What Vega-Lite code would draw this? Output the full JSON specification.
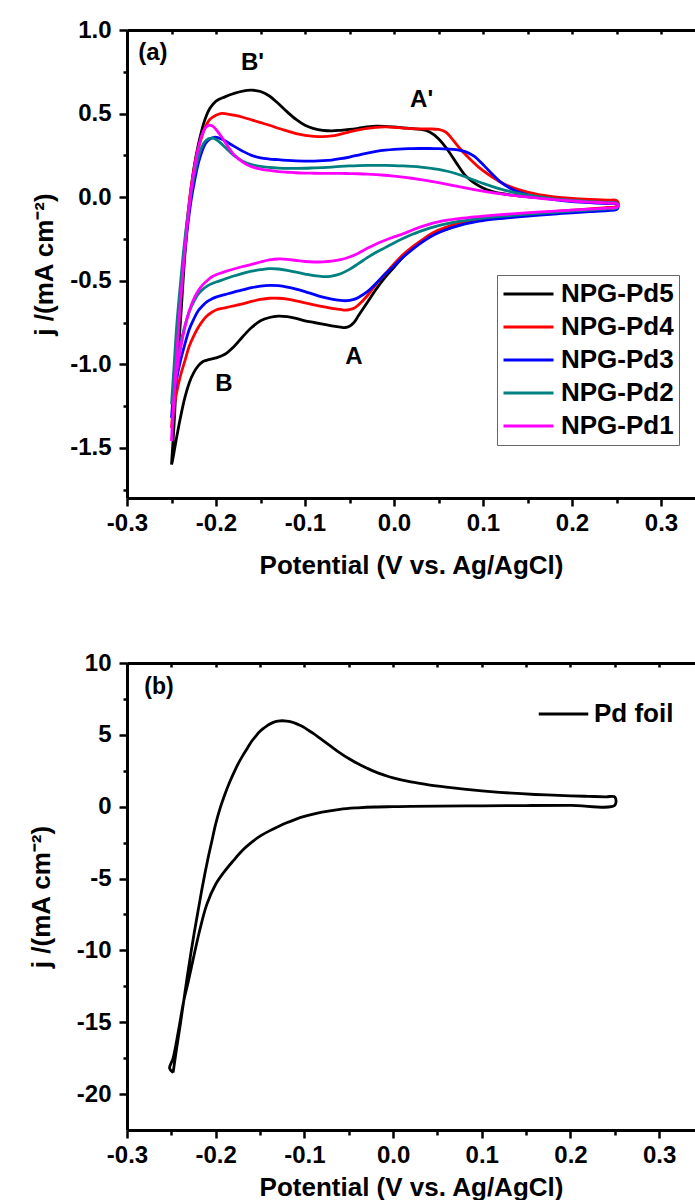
{
  "$schema": "https://vega.github.io/schema/vega-lite/v6.json",
  "padding": {"left": 28, "top": 18, "right": 0, "bottom": 0},
  "background": "white",
  "config": {
    "view": {"stroke": null},
    "font": "Liberation Sans",
    "axis": {"domainColor": "#000", "domainWidth": 3, "tickColor": "#000", "tickWidth": 2.5, "labelColor": "#000", "labelFont": "Liberation Sans", "labelFontWeight": "bold", "labelFontSize": 24, "titleColor": "#000", "titleFont": "Liberation Sans", "titleFontWeight": "bold", "titleFontSize": 26, "grid": false, "labelFlush": false, "labelOverlap": false},
    "legend": {"labelFont": "Liberation Sans", "labelFontWeight": "bold", "labelFontSize": 26, "labelColor": "#000"},
    "text": {"font": "Liberation Sans", "fontWeight": "bold"}
  },
  "datasets": {
    "cv": [
      {"s":"NPG-Pd5","v":-0.25,"j":-1.6},{"s":"NPG-Pd5","v":-0.247,"j":-1.35},{"s":"NPG-Pd5","v":-0.244,"j":-1.05},{"s":"NPG-Pd5","v":-0.24,"j":-0.75},{"s":"NPG-Pd5","v":-0.236,"j":-0.42},{"s":"NPG-Pd5","v":-0.232,"j":-0.15},{"s":"NPG-Pd5","v":-0.228,"j":0.05},{"s":"NPG-Pd5","v":-0.224,"j":0.2},{"s":"NPG-Pd5","v":-0.22,"j":0.31},{"s":"NPG-Pd5","v":-0.216,"j":0.4},{"s":"NPG-Pd5","v":-0.212,"j":0.47},{"s":"NPG-Pd5","v":-0.207,"j":0.53},{"s":"NPG-Pd5","v":-0.2,"j":0.575},{"s":"NPG-Pd5","v":-0.19,"j":0.6},{"s":"NPG-Pd5","v":-0.18,"j":0.62},{"s":"NPG-Pd5","v":-0.17,"j":0.635},{"s":"NPG-Pd5","v":-0.16,"j":0.64},{"s":"NPG-Pd5","v":-0.15,"j":0.632},{"s":"NPG-Pd5","v":-0.14,"j":0.605},{"s":"NPG-Pd5","v":-0.13,"j":0.56},{"s":"NPG-Pd5","v":-0.12,"j":0.51},{"s":"NPG-Pd5","v":-0.11,"j":0.465},{"s":"NPG-Pd5","v":-0.1,"j":0.43},{"s":"NPG-Pd5","v":-0.09,"j":0.41},{"s":"NPG-Pd5","v":-0.08,"j":0.4},{"s":"NPG-Pd5","v":-0.07,"j":0.397},{"s":"NPG-Pd5","v":-0.06,"j":0.4},{"s":"NPG-Pd5","v":-0.05,"j":0.405},{"s":"NPG-Pd5","v":-0.04,"j":0.412},{"s":"NPG-Pd5","v":-0.03,"j":0.42},{"s":"NPG-Pd5","v":-0.02,"j":0.425},{"s":"NPG-Pd5","v":-0.01,"j":0.424},{"s":"NPG-Pd5","v":0,"j":0.42},{"s":"NPG-Pd5","v":0.01,"j":0.415},{"s":"NPG-Pd5","v":0.02,"j":0.41},{"s":"NPG-Pd5","v":0.03,"j":0.405},{"s":"NPG-Pd5","v":0.04,"j":0.39},{"s":"NPG-Pd5","v":0.05,"j":0.35},{"s":"NPG-Pd5","v":0.06,"j":0.285},{"s":"NPG-Pd5","v":0.07,"j":0.205},{"s":"NPG-Pd5","v":0.08,"j":0.13},{"s":"NPG-Pd5","v":0.09,"j":0.085},{"s":"NPG-Pd5","v":0.1,"j":0.055},{"s":"NPG-Pd5","v":0.11,"j":0.035},{"s":"NPG-Pd5","v":0.12,"j":0.022},{"s":"NPG-Pd5","v":0.14,"j":0.008},{"s":"NPG-Pd5","v":0.16,"j":-0.002},{"s":"NPG-Pd5","v":0.18,"j":-0.01},{"s":"NPG-Pd5","v":0.2,"j":-0.015},{"s":"NPG-Pd5","v":0.22,"j":-0.02},{"s":"NPG-Pd5","v":0.24,"j":-0.024},{"s":"NPG-Pd5","v":0.25,"j":-0.026},{"s":"NPG-Pd5","v":0.252,"j":-0.042},{"s":"NPG-Pd5","v":0.25,"j":-0.058},
      {"s":"NPG-Pd5","v":0.24,"j":-0.066},{"s":"NPG-Pd5","v":0.22,"j":-0.074},{"s":"NPG-Pd5","v":0.2,"j":-0.082},{"s":"NPG-Pd5","v":0.18,"j":-0.09},{"s":"NPG-Pd5","v":0.16,"j":-0.098},{"s":"NPG-Pd5","v":0.14,"j":-0.107},{"s":"NPG-Pd5","v":0.12,"j":-0.118},{"s":"NPG-Pd5","v":0.1,"j":-0.132},{"s":"NPG-Pd5","v":0.09,"j":-0.142},{"s":"NPG-Pd5","v":0.08,"j":-0.155},{"s":"NPG-Pd5","v":0.07,"j":-0.17},{"s":"NPG-Pd5","v":0.06,"j":-0.19},{"s":"NPG-Pd5","v":0.05,"j":-0.21},{"s":"NPG-Pd5","v":0.04,"j":-0.235},{"s":"NPG-Pd5","v":0.03,"j":-0.27},{"s":"NPG-Pd5","v":0.02,"j":-0.31},{"s":"NPG-Pd5","v":0.01,"j":-0.36},{"s":"NPG-Pd5","v":0,"j":-0.42},{"s":"NPG-Pd5","v":-0.01,"j":-0.48},{"s":"NPG-Pd5","v":-0.02,"j":-0.55},{"s":"NPG-Pd5","v":-0.03,"j":-0.63},{"s":"NPG-Pd5","v":-0.04,"j":-0.71},{"s":"NPG-Pd5","v":-0.045,"j":-0.75},{"s":"NPG-Pd5","v":-0.05,"j":-0.772},{"s":"NPG-Pd5","v":-0.055,"j":-0.78},{"s":"NPG-Pd5","v":-0.06,"j":-0.778},{"s":"NPG-Pd5","v":-0.07,"j":-0.77},{"s":"NPG-Pd5","v":-0.08,"j":-0.76},{"s":"NPG-Pd5","v":-0.09,"j":-0.75},{"s":"NPG-Pd5","v":-0.1,"j":-0.74},{"s":"NPG-Pd5","v":-0.11,"j":-0.725},{"s":"NPG-Pd5","v":-0.12,"j":-0.715},{"s":"NPG-Pd5","v":-0.13,"j":-0.712},{"s":"NPG-Pd5","v":-0.14,"j":-0.72},{"s":"NPG-Pd5","v":-0.15,"j":-0.74},{"s":"NPG-Pd5","v":-0.16,"j":-0.78},{"s":"NPG-Pd5","v":-0.17,"j":-0.835},{"s":"NPG-Pd5","v":-0.18,"j":-0.895},{"s":"NPG-Pd5","v":-0.19,"j":-0.94},{"s":"NPG-Pd5","v":-0.2,"j":-0.962},{"s":"NPG-Pd5","v":-0.21,"j":-0.975},{"s":"NPG-Pd5","v":-0.215,"j":-0.985},{"s":"NPG-Pd5","v":-0.22,"j":-1.01},{"s":"NPG-Pd5","v":-0.225,"j":-1.05},{"s":"NPG-Pd5","v":-0.23,"j":-1.11},{"s":"NPG-Pd5","v":-0.235,"j":-1.2},{"s":"NPG-Pd5","v":-0.24,"j":-1.32},{"s":"NPG-Pd5","v":-0.245,"j":-1.46},{"s":"NPG-Pd5","v":-0.249,"j":-1.58},{"s":"NPG-Pd5","v":-0.25,"j":-1.6},

      {"s":"NPG-Pd4","v":-0.25,"j":-1.38},{"s":"NPG-Pd4","v":-0.247,"j":-1.15},{"s":"NPG-Pd4","v":-0.244,"j":-0.9},{"s":"NPG-Pd4","v":-0.24,"j":-0.62},{"s":"NPG-Pd4","v":-0.236,"j":-0.36},{"s":"NPG-Pd4","v":-0.232,"j":-0.12},{"s":"NPG-Pd4","v":-0.228,"j":0.06},{"s":"NPG-Pd4","v":-0.224,"j":0.19},{"s":"NPG-Pd4","v":-0.22,"j":0.29},{"s":"NPG-Pd4","v":-0.216,"j":0.36},{"s":"NPG-Pd4","v":-0.212,"j":0.42},{"s":"NPG-Pd4","v":-0.207,"j":0.465},{"s":"NPG-Pd4","v":-0.2,"j":0.49},{"s":"NPG-Pd4","v":-0.195,"j":0.5},{"s":"NPG-Pd4","v":-0.19,"j":0.5},{"s":"NPG-Pd4","v":-0.18,"j":0.49},{"s":"NPG-Pd4","v":-0.17,"j":0.478},{"s":"NPG-Pd4","v":-0.16,"j":0.462},{"s":"NPG-Pd4","v":-0.15,"j":0.446},{"s":"NPG-Pd4","v":-0.14,"j":0.43},{"s":"NPG-Pd4","v":-0.13,"j":0.412},{"s":"NPG-Pd4","v":-0.12,"j":0.396},{"s":"NPG-Pd4","v":-0.11,"j":0.38},{"s":"NPG-Pd4","v":-0.1,"j":0.37},{"s":"NPG-Pd4","v":-0.09,"j":0.364},{"s":"NPG-Pd4","v":-0.08,"j":0.362},{"s":"NPG-Pd4","v":-0.07,"j":0.366},{"s":"NPG-Pd4","v":-0.06,"j":0.377},{"s":"NPG-Pd4","v":-0.05,"j":0.39},{"s":"NPG-Pd4","v":-0.04,"j":0.402},{"s":"NPG-Pd4","v":-0.03,"j":0.412},{"s":"NPG-Pd4","v":-0.02,"j":0.418},{"s":"NPG-Pd4","v":-0.01,"j":0.42},{"s":"NPG-Pd4","v":0,"j":0.418},{"s":"NPG-Pd4","v":0.01,"j":0.413},{"s":"NPG-Pd4","v":0.02,"j":0.41},{"s":"NPG-Pd4","v":0.03,"j":0.408},{"s":"NPG-Pd4","v":0.04,"j":0.408},{"s":"NPG-Pd4","v":0.05,"j":0.405},{"s":"NPG-Pd4","v":0.058,"j":0.39},{"s":"NPG-Pd4","v":0.065,"j":0.35},{"s":"NPG-Pd4","v":0.075,"j":0.285},{"s":"NPG-Pd4","v":0.085,"j":0.23},{"s":"NPG-Pd4","v":0.095,"j":0.18},{"s":"NPG-Pd4","v":0.105,"j":0.14},{"s":"NPG-Pd4","v":0.115,"j":0.105},{"s":"NPG-Pd4","v":0.125,"j":0.075},{"s":"NPG-Pd4","v":0.14,"j":0.045},{"s":"NPG-Pd4","v":0.16,"j":0.018},{"s":"NPG-Pd4","v":0.18,"j":0.002},{"s":"NPG-Pd4","v":0.2,"j":-0.008},{"s":"NPG-Pd4","v":0.22,"j":-0.014},{"s":"NPG-Pd4","v":0.24,"j":-0.018},{"s":"NPG-Pd4","v":0.25,"j":-0.02},{"s":"NPG-Pd4","v":0.252,"j":-0.037},{"s":"NPG-Pd4","v":0.25,"j":-0.055},
      {"s":"NPG-Pd4","v":0.24,"j":-0.062},{"s":"NPG-Pd4","v":0.22,"j":-0.07},{"s":"NPG-Pd4","v":0.2,"j":-0.078},{"s":"NPG-Pd4","v":0.18,"j":-0.086},{"s":"NPG-Pd4","v":0.16,"j":-0.094},{"s":"NPG-Pd4","v":0.14,"j":-0.103},{"s":"NPG-Pd4","v":0.12,"j":-0.113},{"s":"NPG-Pd4","v":0.1,"j":-0.126},{"s":"NPG-Pd4","v":0.09,"j":-0.135},{"s":"NPG-Pd4","v":0.08,"j":-0.146},{"s":"NPG-Pd4","v":0.07,"j":-0.16},{"s":"NPG-Pd4","v":0.06,"j":-0.177},{"s":"NPG-Pd4","v":0.05,"j":-0.197},{"s":"NPG-Pd4","v":0.04,"j":-0.225},{"s":"NPG-Pd4","v":0.03,"j":-0.262},{"s":"NPG-Pd4","v":0.02,"j":-0.3},{"s":"NPG-Pd4","v":0.01,"j":-0.345},{"s":"NPG-Pd4","v":0,"j":-0.4},{"s":"NPG-Pd4","v":-0.01,"j":-0.46},{"s":"NPG-Pd4","v":-0.02,"j":-0.52},{"s":"NPG-Pd4","v":-0.03,"j":-0.59},{"s":"NPG-Pd4","v":-0.04,"j":-0.645},{"s":"NPG-Pd4","v":-0.045,"j":-0.665},{"s":"NPG-Pd4","v":-0.05,"j":-0.673},{"s":"NPG-Pd4","v":-0.055,"j":-0.676},{"s":"NPG-Pd4","v":-0.06,"j":-0.672},{"s":"NPG-Pd4","v":-0.07,"j":-0.665},{"s":"NPG-Pd4","v":-0.08,"j":-0.655},{"s":"NPG-Pd4","v":-0.09,"j":-0.645},{"s":"NPG-Pd4","v":-0.1,"j":-0.632},{"s":"NPG-Pd4","v":-0.11,"j":-0.62},{"s":"NPG-Pd4","v":-0.12,"j":-0.61},{"s":"NPG-Pd4","v":-0.13,"j":-0.605},{"s":"NPG-Pd4","v":-0.14,"j":-0.605},{"s":"NPG-Pd4","v":-0.15,"j":-0.612},{"s":"NPG-Pd4","v":-0.16,"j":-0.624},{"s":"NPG-Pd4","v":-0.17,"j":-0.638},{"s":"NPG-Pd4","v":-0.18,"j":-0.65},{"s":"NPG-Pd4","v":-0.19,"j":-0.662},{"s":"NPG-Pd4","v":-0.2,"j":-0.675},{"s":"NPG-Pd4","v":-0.205,"j":-0.69},{"s":"NPG-Pd4","v":-0.21,"j":-0.71},{"s":"NPG-Pd4","v":-0.215,"j":-0.74},{"s":"NPG-Pd4","v":-0.22,"j":-0.78},{"s":"NPG-Pd4","v":-0.225,"j":-0.83},{"s":"NPG-Pd4","v":-0.23,"j":-0.89},{"s":"NPG-Pd4","v":-0.235,"j":-0.98},{"s":"NPG-Pd4","v":-0.24,"j":-1.07},{"s":"NPG-Pd4","v":-0.245,"j":-1.19},{"s":"NPG-Pd4","v":-0.248,"j":-1.29},{"s":"NPG-Pd4","v":-0.25,"j":-1.38},

      {"s":"NPG-Pd3","v":-0.25,"j":-1.32},{"s":"NPG-Pd3","v":-0.247,"j":-1.1},{"s":"NPG-Pd3","v":-0.244,"j":-0.86},{"s":"NPG-Pd3","v":-0.24,"j":-0.6},{"s":"NPG-Pd3","v":-0.236,"j":-0.38},{"s":"NPG-Pd3","v":-0.232,"j":-0.18},{"s":"NPG-Pd3","v":-0.228,"j":-0.02},{"s":"NPG-Pd3","v":-0.224,"j":0.1},{"s":"NPG-Pd3","v":-0.22,"j":0.2},{"s":"NPG-Pd3","v":-0.216,"j":0.27},{"s":"NPG-Pd3","v":-0.212,"j":0.32},{"s":"NPG-Pd3","v":-0.207,"j":0.348},{"s":"NPG-Pd3","v":-0.202,"j":0.358},{"s":"NPG-Pd3","v":-0.198,"j":0.356},{"s":"NPG-Pd3","v":-0.19,"j":0.338},{"s":"NPG-Pd3","v":-0.18,"j":0.305},{"s":"NPG-Pd3","v":-0.17,"j":0.275},{"s":"NPG-Pd3","v":-0.16,"j":0.25},{"s":"NPG-Pd3","v":-0.15,"j":0.235},{"s":"NPG-Pd3","v":-0.14,"j":0.228},{"s":"NPG-Pd3","v":-0.13,"j":0.224},{"s":"NPG-Pd3","v":-0.12,"j":0.22},{"s":"NPG-Pd3","v":-0.11,"j":0.217},{"s":"NPG-Pd3","v":-0.1,"j":0.216},{"s":"NPG-Pd3","v":-0.09,"j":0.216},{"s":"NPG-Pd3","v":-0.08,"j":0.218},{"s":"NPG-Pd3","v":-0.07,"j":0.222},{"s":"NPG-Pd3","v":-0.06,"j":0.23},{"s":"NPG-Pd3","v":-0.05,"j":0.24},{"s":"NPG-Pd3","v":-0.04,"j":0.252},{"s":"NPG-Pd3","v":-0.03,"j":0.264},{"s":"NPG-Pd3","v":-0.02,"j":0.274},{"s":"NPG-Pd3","v":-0.01,"j":0.281},{"s":"NPG-Pd3","v":0,"j":0.286},{"s":"NPG-Pd3","v":0.01,"j":0.289},{"s":"NPG-Pd3","v":0.02,"j":0.29},{"s":"NPG-Pd3","v":0.03,"j":0.291},{"s":"NPG-Pd3","v":0.04,"j":0.291},{"s":"NPG-Pd3","v":0.05,"j":0.29},{"s":"NPG-Pd3","v":0.06,"j":0.288},{"s":"NPG-Pd3","v":0.07,"j":0.284},{"s":"NPG-Pd3","v":0.08,"j":0.272},{"s":"NPG-Pd3","v":0.09,"j":0.245},{"s":"NPG-Pd3","v":0.1,"j":0.195},{"s":"NPG-Pd3","v":0.11,"j":0.14},{"s":"NPG-Pd3","v":0.12,"j":0.09},{"s":"NPG-Pd3","v":0.13,"j":0.055},{"s":"NPG-Pd3","v":0.14,"j":0.03},{"s":"NPG-Pd3","v":0.16,"j":0.002},{"s":"NPG-Pd3","v":0.18,"j":-0.015},{"s":"NPG-Pd3","v":0.2,"j":-0.026},{"s":"NPG-Pd3","v":0.22,"j":-0.033},{"s":"NPG-Pd3","v":0.24,"j":-0.038},{"s":"NPG-Pd3","v":0.25,"j":-0.04},{"s":"NPG-Pd3","v":0.252,"j":-0.057},{"s":"NPG-Pd3","v":0.25,"j":-0.075},
      {"s":"NPG-Pd3","v":0.24,"j":-0.08},{"s":"NPG-Pd3","v":0.22,"j":-0.087},{"s":"NPG-Pd3","v":0.2,"j":-0.094},{"s":"NPG-Pd3","v":0.18,"j":-0.101},{"s":"NPG-Pd3","v":0.16,"j":-0.109},{"s":"NPG-Pd3","v":0.14,"j":-0.118},{"s":"NPG-Pd3","v":0.12,"j":-0.128},{"s":"NPG-Pd3","v":0.1,"j":-0.14},{"s":"NPG-Pd3","v":0.09,"j":-0.149},{"s":"NPG-Pd3","v":0.08,"j":-0.16},{"s":"NPG-Pd3","v":0.07,"j":-0.175},{"s":"NPG-Pd3","v":0.06,"j":-0.192},{"s":"NPG-Pd3","v":0.05,"j":-0.213},{"s":"NPG-Pd3","v":0.04,"j":-0.24},{"s":"NPG-Pd3","v":0.03,"j":-0.275},{"s":"NPG-Pd3","v":0.02,"j":-0.315},{"s":"NPG-Pd3","v":0.01,"j":-0.36},{"s":"NPG-Pd3","v":0,"j":-0.41},{"s":"NPG-Pd3","v":-0.01,"j":-0.46},{"s":"NPG-Pd3","v":-0.02,"j":-0.515},{"s":"NPG-Pd3","v":-0.03,"j":-0.565},{"s":"NPG-Pd3","v":-0.04,"j":-0.6},{"s":"NPG-Pd3","v":-0.045,"j":-0.612},{"s":"NPG-Pd3","v":-0.05,"j":-0.618},{"s":"NPG-Pd3","v":-0.055,"j":-0.62},{"s":"NPG-Pd3","v":-0.06,"j":-0.618},{"s":"NPG-Pd3","v":-0.07,"j":-0.61},{"s":"NPG-Pd3","v":-0.08,"j":-0.598},{"s":"NPG-Pd3","v":-0.09,"j":-0.582},{"s":"NPG-Pd3","v":-0.1,"j":-0.565},{"s":"NPG-Pd3","v":-0.11,"j":-0.55},{"s":"NPG-Pd3","v":-0.12,"j":-0.538},{"s":"NPG-Pd3","v":-0.13,"j":-0.53},{"s":"NPG-Pd3","v":-0.14,"j":-0.528},{"s":"NPG-Pd3","v":-0.15,"j":-0.533},{"s":"NPG-Pd3","v":-0.16,"j":-0.542},{"s":"NPG-Pd3","v":-0.17,"j":-0.555},{"s":"NPG-Pd3","v":-0.18,"j":-0.568},{"s":"NPG-Pd3","v":-0.19,"j":-0.583},{"s":"NPG-Pd3","v":-0.2,"j":-0.598},{"s":"NPG-Pd3","v":-0.205,"j":-0.61},{"s":"NPG-Pd3","v":-0.21,"j":-0.625},{"s":"NPG-Pd3","v":-0.215,"j":-0.65},{"s":"NPG-Pd3","v":-0.22,"j":-0.68},{"s":"NPG-Pd3","v":-0.225,"j":-0.73},{"s":"NPG-Pd3","v":-0.23,"j":-0.79},{"s":"NPG-Pd3","v":-0.235,"j":-0.88},{"s":"NPG-Pd3","v":-0.24,"j":-0.98},{"s":"NPG-Pd3","v":-0.245,"j":-1.11},{"s":"NPG-Pd3","v":-0.248,"j":-1.22},{"s":"NPG-Pd3","v":-0.25,"j":-1.32},

      {"s":"NPG-Pd2","v":-0.25,"j":-1.24},{"s":"NPG-Pd2","v":-0.247,"j":-1.0},{"s":"NPG-Pd2","v":-0.244,"j":-0.76},{"s":"NPG-Pd2","v":-0.24,"j":-0.52},{"s":"NPG-Pd2","v":-0.236,"j":-0.3},{"s":"NPG-Pd2","v":-0.232,"j":-0.12},{"s":"NPG-Pd2","v":-0.228,"j":0.02},{"s":"NPG-Pd2","v":-0.224,"j":0.14},{"s":"NPG-Pd2","v":-0.22,"j":0.235},{"s":"NPG-Pd2","v":-0.216,"j":0.3},{"s":"NPG-Pd2","v":-0.212,"j":0.335},{"s":"NPG-Pd2","v":-0.208,"j":0.35},{"s":"NPG-Pd2","v":-0.204,"j":0.353},{"s":"NPG-Pd2","v":-0.2,"j":0.345},{"s":"NPG-Pd2","v":-0.195,"j":0.325},{"s":"NPG-Pd2","v":-0.19,"j":0.3},{"s":"NPG-Pd2","v":-0.18,"j":0.25},{"s":"NPG-Pd2","v":-0.17,"j":0.215},{"s":"NPG-Pd2","v":-0.16,"j":0.195},{"s":"NPG-Pd2","v":-0.15,"j":0.184},{"s":"NPG-Pd2","v":-0.14,"j":0.178},{"s":"NPG-Pd2","v":-0.13,"j":0.174},{"s":"NPG-Pd2","v":-0.12,"j":0.172},{"s":"NPG-Pd2","v":-0.11,"j":0.172},{"s":"NPG-Pd2","v":-0.1,"j":0.173},{"s":"NPG-Pd2","v":-0.09,"j":0.175},{"s":"NPG-Pd2","v":-0.08,"j":0.177},{"s":"NPG-Pd2","v":-0.07,"j":0.18},{"s":"NPG-Pd2","v":-0.06,"j":0.184},{"s":"NPG-Pd2","v":-0.05,"j":0.187},{"s":"NPG-Pd2","v":-0.04,"j":0.189},{"s":"NPG-Pd2","v":-0.03,"j":0.19},{"s":"NPG-Pd2","v":-0.02,"j":0.19},{"s":"NPG-Pd2","v":-0.01,"j":0.19},{"s":"NPG-Pd2","v":0,"j":0.189},{"s":"NPG-Pd2","v":0.01,"j":0.187},{"s":"NPG-Pd2","v":0.02,"j":0.184},{"s":"NPG-Pd2","v":0.03,"j":0.18},{"s":"NPG-Pd2","v":0.04,"j":0.174},{"s":"NPG-Pd2","v":0.05,"j":0.166},{"s":"NPG-Pd2","v":0.06,"j":0.155},{"s":"NPG-Pd2","v":0.07,"j":0.14},{"s":"NPG-Pd2","v":0.08,"j":0.122},{"s":"NPG-Pd2","v":0.09,"j":0.102},{"s":"NPG-Pd2","v":0.1,"j":0.082},{"s":"NPG-Pd2","v":0.11,"j":0.064},{"s":"NPG-Pd2","v":0.12,"j":0.048},{"s":"NPG-Pd2","v":0.13,"j":0.034},{"s":"NPG-Pd2","v":0.14,"j":0.022},{"s":"NPG-Pd2","v":0.16,"j":0.004},{"s":"NPG-Pd2","v":0.18,"j":-0.01},{"s":"NPG-Pd2","v":0.2,"j":-0.02},{"s":"NPG-Pd2","v":0.22,"j":-0.027},{"s":"NPG-Pd2","v":0.24,"j":-0.032},{"s":"NPG-Pd2","v":0.25,"j":-0.034},{"s":"NPG-Pd2","v":0.252,"j":-0.05},{"s":"NPG-Pd2","v":0.25,"j":-0.065},
      {"s":"NPG-Pd2","v":0.24,"j":-0.07},{"s":"NPG-Pd2","v":0.22,"j":-0.077},{"s":"NPG-Pd2","v":0.2,"j":-0.084},{"s":"NPG-Pd2","v":0.18,"j":-0.091},{"s":"NPG-Pd2","v":0.16,"j":-0.098},{"s":"NPG-Pd2","v":0.14,"j":-0.106},{"s":"NPG-Pd2","v":0.12,"j":-0.115},{"s":"NPG-Pd2","v":0.1,"j":-0.125},{"s":"NPG-Pd2","v":0.09,"j":-0.132},{"s":"NPG-Pd2","v":0.08,"j":-0.14},{"s":"NPG-Pd2","v":0.07,"j":-0.148},{"s":"NPG-Pd2","v":0.06,"j":-0.158},{"s":"NPG-Pd2","v":0.05,"j":-0.17},{"s":"NPG-Pd2","v":0.04,"j":-0.185},{"s":"NPG-Pd2","v":0.03,"j":-0.203},{"s":"NPG-Pd2","v":0.02,"j":-0.224},{"s":"NPG-Pd2","v":0.01,"j":-0.248},{"s":"NPG-Pd2","v":0,"j":-0.274},{"s":"NPG-Pd2","v":-0.01,"j":-0.302},{"s":"NPG-Pd2","v":-0.02,"j":-0.33},{"s":"NPG-Pd2","v":-0.03,"j":-0.362},{"s":"NPG-Pd2","v":-0.04,"j":-0.398},{"s":"NPG-Pd2","v":-0.05,"j":-0.432},{"s":"NPG-Pd2","v":-0.06,"j":-0.458},{"s":"NPG-Pd2","v":-0.07,"j":-0.472},{"s":"NPG-Pd2","v":-0.08,"j":-0.475},{"s":"NPG-Pd2","v":-0.09,"j":-0.47},{"s":"NPG-Pd2","v":-0.1,"j":-0.46},{"s":"NPG-Pd2","v":-0.11,"j":-0.449},{"s":"NPG-Pd2","v":-0.12,"j":-0.438},{"s":"NPG-Pd2","v":-0.13,"j":-0.43},{"s":"NPG-Pd2","v":-0.14,"j":-0.428},{"s":"NPG-Pd2","v":-0.15,"j":-0.434},{"s":"NPG-Pd2","v":-0.16,"j":-0.443},{"s":"NPG-Pd2","v":-0.17,"j":-0.456},{"s":"NPG-Pd2","v":-0.18,"j":-0.472},{"s":"NPG-Pd2","v":-0.19,"j":-0.49},{"s":"NPG-Pd2","v":-0.2,"j":-0.508},{"s":"NPG-Pd2","v":-0.205,"j":-0.518},{"s":"NPG-Pd2","v":-0.21,"j":-0.532},{"s":"NPG-Pd2","v":-0.215,"j":-0.552},{"s":"NPG-Pd2","v":-0.22,"j":-0.58},{"s":"NPG-Pd2","v":-0.225,"j":-0.625},{"s":"NPG-Pd2","v":-0.23,"j":-0.685},{"s":"NPG-Pd2","v":-0.235,"j":-0.77},{"s":"NPG-Pd2","v":-0.24,"j":-0.88},{"s":"NPG-Pd2","v":-0.245,"j":-1.01},{"s":"NPG-Pd2","v":-0.248,"j":-1.13},{"s":"NPG-Pd2","v":-0.25,"j":-1.24},

      {"s":"NPG-Pd1","v":-0.25,"j":-1.46},{"s":"NPG-Pd1","v":-0.247,"j":-1.2},{"s":"NPG-Pd1","v":-0.244,"j":-0.93},{"s":"NPG-Pd1","v":-0.24,"j":-0.63},{"s":"NPG-Pd1","v":-0.236,"j":-0.37},{"s":"NPG-Pd1","v":-0.232,"j":-0.15},{"s":"NPG-Pd1","v":-0.228,"j":0.04},{"s":"NPG-Pd1","v":-0.224,"j":0.18},{"s":"NPG-Pd1","v":-0.22,"j":0.29},{"s":"NPG-Pd1","v":-0.216,"j":0.37},{"s":"NPG-Pd1","v":-0.212,"j":0.415},{"s":"NPG-Pd1","v":-0.208,"j":0.43},{"s":"NPG-Pd1","v":-0.204,"j":0.425},{"s":"NPG-Pd1","v":-0.2,"j":0.405},{"s":"NPG-Pd1","v":-0.195,"j":0.37},{"s":"NPG-Pd1","v":-0.19,"j":0.33},{"s":"NPG-Pd1","v":-0.185,"j":0.29},{"s":"NPG-Pd1","v":-0.18,"j":0.255},{"s":"NPG-Pd1","v":-0.17,"j":0.21},{"s":"NPG-Pd1","v":-0.16,"j":0.182},{"s":"NPG-Pd1","v":-0.15,"j":0.168},{"s":"NPG-Pd1","v":-0.14,"j":0.16},{"s":"NPG-Pd1","v":-0.13,"j":0.153},{"s":"NPG-Pd1","v":-0.12,"j":0.149},{"s":"NPG-Pd1","v":-0.11,"j":0.146},{"s":"NPG-Pd1","v":-0.1,"j":0.144},{"s":"NPG-Pd1","v":-0.09,"j":0.143},{"s":"NPG-Pd1","v":-0.08,"j":0.142},{"s":"NPG-Pd1","v":-0.07,"j":0.142},{"s":"NPG-Pd1","v":-0.06,"j":0.142},{"s":"NPG-Pd1","v":-0.05,"j":0.141},{"s":"NPG-Pd1","v":-0.04,"j":0.14},{"s":"NPG-Pd1","v":-0.03,"j":0.138},{"s":"NPG-Pd1","v":-0.02,"j":0.135},{"s":"NPG-Pd1","v":-0.01,"j":0.131},{"s":"NPG-Pd1","v":0,"j":0.126},{"s":"NPG-Pd1","v":0.01,"j":0.12},{"s":"NPG-Pd1","v":0.02,"j":0.113},{"s":"NPG-Pd1","v":0.03,"j":0.105},{"s":"NPG-Pd1","v":0.04,"j":0.096},{"s":"NPG-Pd1","v":0.05,"j":0.087},{"s":"NPG-Pd1","v":0.06,"j":0.077},{"s":"NPG-Pd1","v":0.07,"j":0.066},{"s":"NPG-Pd1","v":0.08,"j":0.055},{"s":"NPG-Pd1","v":0.09,"j":0.045},{"s":"NPG-Pd1","v":0.1,"j":0.036},{"s":"NPG-Pd1","v":0.11,"j":0.027},{"s":"NPG-Pd1","v":0.12,"j":0.019},{"s":"NPG-Pd1","v":0.14,"j":0.006},{"s":"NPG-Pd1","v":0.16,"j":-0.005},{"s":"NPG-Pd1","v":0.18,"j":-0.015},{"s":"NPG-Pd1","v":0.2,"j":-0.023},{"s":"NPG-Pd1","v":0.22,"j":-0.03},{"s":"NPG-Pd1","v":0.24,"j":-0.035},{"s":"NPG-Pd1","v":0.25,"j":-0.038},{"s":"NPG-Pd1","v":0.252,"j":-0.05},{"s":"NPG-Pd1","v":0.25,"j":-0.062},
      {"s":"NPG-Pd1","v":0.24,"j":-0.066},{"s":"NPG-Pd1","v":0.22,"j":-0.072},{"s":"NPG-Pd1","v":0.2,"j":-0.078},{"s":"NPG-Pd1","v":0.18,"j":-0.084},{"s":"NPG-Pd1","v":0.16,"j":-0.09},{"s":"NPG-Pd1","v":0.14,"j":-0.097},{"s":"NPG-Pd1","v":0.12,"j":-0.105},{"s":"NPG-Pd1","v":0.1,"j":-0.113},{"s":"NPG-Pd1","v":0.09,"j":-0.118},{"s":"NPG-Pd1","v":0.08,"j":-0.124},{"s":"NPG-Pd1","v":0.07,"j":-0.13},{"s":"NPG-Pd1","v":0.06,"j":-0.138},{"s":"NPG-Pd1","v":0.05,"j":-0.148},{"s":"NPG-Pd1","v":0.04,"j":-0.161},{"s":"NPG-Pd1","v":0.03,"j":-0.178},{"s":"NPG-Pd1","v":0.02,"j":-0.198},{"s":"NPG-Pd1","v":0.01,"j":-0.22},{"s":"NPG-Pd1","v":0,"j":-0.238},{"s":"NPG-Pd1","v":-0.01,"j":-0.258},{"s":"NPG-Pd1","v":-0.02,"j":-0.28},{"s":"NPG-Pd1","v":-0.03,"j":-0.306},{"s":"NPG-Pd1","v":-0.04,"j":-0.335},{"s":"NPG-Pd1","v":-0.05,"j":-0.358},{"s":"NPG-Pd1","v":-0.06,"j":-0.374},{"s":"NPG-Pd1","v":-0.07,"j":-0.383},{"s":"NPG-Pd1","v":-0.08,"j":-0.387},{"s":"NPG-Pd1","v":-0.09,"j":-0.388},{"s":"NPG-Pd1","v":-0.1,"j":-0.385},{"s":"NPG-Pd1","v":-0.11,"j":-0.379},{"s":"NPG-Pd1","v":-0.12,"j":-0.372},{"s":"NPG-Pd1","v":-0.13,"j":-0.37},{"s":"NPG-Pd1","v":-0.14,"j":-0.376},{"s":"NPG-Pd1","v":-0.15,"j":-0.388},{"s":"NPG-Pd1","v":-0.16,"j":-0.402},{"s":"NPG-Pd1","v":-0.17,"j":-0.415},{"s":"NPG-Pd1","v":-0.18,"j":-0.43},{"s":"NPG-Pd1","v":-0.19,"j":-0.446},{"s":"NPG-Pd1","v":-0.2,"j":-0.464},{"s":"NPG-Pd1","v":-0.205,"j":-0.478},{"s":"NPG-Pd1","v":-0.21,"j":-0.5},{"s":"NPG-Pd1","v":-0.215,"j":-0.525},{"s":"NPG-Pd1","v":-0.22,"j":-0.56},{"s":"NPG-Pd1","v":-0.225,"j":-0.61},{"s":"NPG-Pd1","v":-0.23,"j":-0.68},{"s":"NPG-Pd1","v":-0.235,"j":-0.78},{"s":"NPG-Pd1","v":-0.24,"j":-0.91},{"s":"NPG-Pd1","v":-0.245,"j":-1.08},{"s":"NPG-Pd1","v":-0.248,"j":-1.25},{"s":"NPG-Pd1","v":-0.25,"j":-1.46}
    ],
    "foil": [
      {"s":"Pd foil","v":-0.248,"j":-18.5},{"s":"Pd foil","v":-0.244,"j":-16.8},{"s":"Pd foil","v":-0.24,"j":-15.2},{"s":"Pd foil","v":-0.236,"j":-13.5},{"s":"Pd foil","v":-0.232,"j":-11.8},{"s":"Pd foil","v":-0.228,"j":-10.2},{"s":"Pd foil","v":-0.224,"j":-8.7},{"s":"Pd foil","v":-0.22,"j":-7.3},{"s":"Pd foil","v":-0.216,"j":-5.9},{"s":"Pd foil","v":-0.212,"j":-4.6},{"s":"Pd foil","v":-0.208,"j":-3.4},{"s":"Pd foil","v":-0.204,"j":-2.3},{"s":"Pd foil","v":-0.2,"j":-1.2},{"s":"Pd foil","v":-0.195,"j":-0.1},{"s":"Pd foil","v":-0.19,"j":0.8},{"s":"Pd foil","v":-0.185,"j":1.6},{"s":"Pd foil","v":-0.18,"j":2.3},{"s":"Pd foil","v":-0.175,"j":2.95},{"s":"Pd foil","v":-0.17,"j":3.5},{"s":"Pd foil","v":-0.165,"j":4.0},{"s":"Pd foil","v":-0.16,"j":4.5},{"s":"Pd foil","v":-0.155,"j":4.9},{"s":"Pd foil","v":-0.15,"j":5.25},{"s":"Pd foil","v":-0.145,"j":5.5},{"s":"Pd foil","v":-0.14,"j":5.72},{"s":"Pd foil","v":-0.135,"j":5.87},{"s":"Pd foil","v":-0.13,"j":5.95},{"s":"Pd foil","v":-0.125,"j":5.98},{"s":"Pd foil","v":-0.12,"j":5.96},{"s":"Pd foil","v":-0.115,"j":5.9},{"s":"Pd foil","v":-0.11,"j":5.8},{"s":"Pd foil","v":-0.105,"j":5.66},{"s":"Pd foil","v":-0.1,"j":5.5},{"s":"Pd foil","v":-0.095,"j":5.3},{"s":"Pd foil","v":-0.09,"j":5.1},{"s":"Pd foil","v":-0.08,"j":4.65},{"s":"Pd foil","v":-0.07,"j":4.2},{"s":"Pd foil","v":-0.06,"j":3.75},{"s":"Pd foil","v":-0.05,"j":3.35},{"s":"Pd foil","v":-0.04,"j":3.0},{"s":"Pd foil","v":-0.03,"j":2.7},{"s":"Pd foil","v":-0.02,"j":2.42},{"s":"Pd foil","v":-0.01,"j":2.2},{"s":"Pd foil","v":0,"j":2.0},{"s":"Pd foil","v":0.02,"j":1.72},{"s":"Pd foil","v":0.04,"j":1.52},{"s":"Pd foil","v":0.06,"j":1.36},{"s":"Pd foil","v":0.08,"j":1.22},{"s":"Pd foil","v":0.1,"j":1.1},{"s":"Pd foil","v":0.12,"j":1.0},{"s":"Pd foil","v":0.14,"j":0.92},{"s":"Pd foil","v":0.16,"j":0.85},{"s":"Pd foil","v":0.18,"j":0.8},{"s":"Pd foil","v":0.2,"j":0.75},{"s":"Pd foil","v":0.22,"j":0.72},{"s":"Pd foil","v":0.24,"j":0.69},{"s":"Pd foil","v":0.25,"j":0.68},{"s":"Pd foil","v":0.25,"j":0.1},
      {"s":"Pd foil","v":0.2,"j":0.09},{"s":"Pd foil","v":0.15,"j":0.08},{"s":"Pd foil","v":0.1,"j":0.06},{"s":"Pd foil","v":0.05,"j":0.04},{"s":"Pd foil","v":0.02,"j":0.02},{"s":"Pd foil","v":0,"j":0},{"s":"Pd foil","v":-0.02,"j":-0.02},{"s":"Pd foil","v":-0.04,"j":-0.08},{"s":"Pd foil","v":-0.06,"j":-0.18},{"s":"Pd foil","v":-0.08,"j":-0.38},{"s":"Pd foil","v":-0.09,"j":-0.52},{"s":"Pd foil","v":-0.1,"j":-0.68},{"s":"Pd foil","v":-0.11,"j":-0.88},{"s":"Pd foil","v":-0.12,"j":-1.12},{"s":"Pd foil","v":-0.13,"j":-1.4},{"s":"Pd foil","v":-0.14,"j":-1.7},{"s":"Pd foil","v":-0.15,"j":-2.05},{"s":"Pd foil","v":-0.16,"j":-2.5},{"s":"Pd foil","v":-0.17,"j":-3.05},{"s":"Pd foil","v":-0.18,"j":-3.75},{"s":"Pd foil","v":-0.19,"j":-4.5},{"s":"Pd foil","v":-0.2,"j":-5.4},{"s":"Pd foil","v":-0.21,"j":-6.8},{"s":"Pd foil","v":-0.218,"j":-8.6},{"s":"Pd foil","v":-0.225,"j":-10.5},{"s":"Pd foil","v":-0.231,"j":-12.2},{"s":"Pd foil","v":-0.236,"j":-13.5},{"s":"Pd foil","v":-0.242,"j":-15.6},{"s":"Pd foil","v":-0.248,"j":-17.5},{"s":"Pd foil","v":-0.252,"j":-18.2},{"s":"Pd foil","v":-0.248,"j":-18.5}
    ],
    "annA": [
      {"t":"(a)","v":-0.271,"j":0.861},
      {"t":"B'","v":-0.159,"j":0.8},
      {"t":"A'","v":0.031,"j":0.58},
      {"t":"A","v":-0.045,"j":-0.955},
      {"t":"B","v":-0.191,"j":-1.119}
    ],
    "annB": [
      {"t":"(b)","v":-0.264,"j":8.36}
    ]
  },
  "columns": 1,
  "align": "none",
  "spacing": 73,
  "concat": [
    {
      "width": 568,
      "height": 468,
      "layer": [
        {
          "data": {"name": "cv"},
          "mark": {"type": "line", "strokeWidth": 2.8, "interpolate": "catmull-rom"},
          "encoding": {
            "x": {"field": "v", "type": "quantitative", "scale": {"domain": [-0.3, 0.3382], "nice": false, "zero": false},
                  "axis": {"orient": "bottom", "values": [-0.3, -0.2, -0.1, 0, 0.1, 0.2, 0.3], "labelExpr": "datum.value < -0.001 ? '-' + format(-datum.value, '.1f') : format(abs(datum.value), '.1f')", "tickSize": 8, "labelPadding": 5, "title": "Potential (V vs. Ag/AgCl)", "titlePadding": 17}},
            "y": {"field": "j", "type": "quantitative", "scale": {"domain": [-1.8, 1.0], "nice": false, "zero": false},
                  "axis": {"orient": "left", "values": [-1.5, -1, -0.5, 0, 0.5, 1], "labelExpr": "datum.value < -0.001 ? '-' + format(-datum.value, '.1f') : format(abs(datum.value), '.1f')", "tickSize": 8, "labelPadding": 8, "title": "j /(mA cm⁻²)", "titlePadding": 12}},
            "color": {"field": "s", "type": "nominal",
                      "scale": {"domain": ["NPG-Pd5", "NPG-Pd4", "NPG-Pd3", "NPG-Pd2", "NPG-Pd1"], "range": ["#000000", "#FF0000", "#0000FF", "#008080", "#FF00FF"]},
                      "legend": {"title": null, "orient": "none", "legendX": 370, "legendY": 245, "padding": 5, "strokeColor": "#666666", "symbolType": "stroke", "symbolSize": 2500, "symbolStrokeWidth": 3, "clipHeight": 28, "rowPadding": 5, "labelOffset": 6, "labelLimit": 200}},
            "order": {"value": null}
          }
        },
        {
          "data": {"name": "annA"},
          "mark": {"type": "text", "fontSize": 24, "fontWeight": "bold", "color": "#000", "align": "center", "baseline": "middle"},
          "encoding": {
            "x": {"field": "v", "type": "quantitative", "axis": {"orient": "bottom", "values": [-0.25, -0.15, -0.05, 0.05, 0.15, 0.25], "labels": false, "domain": false, "title": null, "tickSize": 5}},
            "y": {"field": "j", "type": "quantitative", "axis": {"orient": "left", "values": [-1.75, -1.25, -0.75, -0.25, 0.25, 0.75], "labels": false, "domain": false, "title": null, "tickSize": 4}},
            "text": {"field": "t"}
          }
        },
        {
          "data": {"name": "annA"},
          "mark": {"type": "point", "opacity": 0},
          "encoding": {
            "x": {"field": "v", "type": "quantitative", "axis": {"orient": "top", "values": [-0.3, -0.25, -0.2, -0.15, -0.1, -0.05, 0, 0.05, 0.1, 0.15, 0.2, 0.25, 0.3], "labels": false, "title": null, "tickSize": -4}},
            "y": {"field": "j", "type": "quantitative", "axis": null}
          }
        }
      ],
      "resolve": {"axis": {"x": "independent", "y": "independent"}}
    },
    {
      "width": 568,
      "height": 467,
      "layer": [
        {
          "data": {"name": "foil"},
          "mark": {"type": "line", "strokeWidth": 2.8, "interpolate": "catmull-rom"},
          "encoding": {
            "x": {"field": "v", "type": "quantitative", "scale": {"domain": [-0.3, 0.3404], "nice": false, "zero": false},
                  "axis": {"orient": "bottom", "values": [-0.3, -0.2, -0.1, 0, 0.1, 0.2, 0.3], "labelExpr": "datum.value < -0.001 ? '-' + format(-datum.value, '.1f') : format(abs(datum.value), '.1f')", "tickSize": 8, "labelPadding": 5, "title": "Potential (V vs. Ag/AgCl)", "titlePadding": 7}},
            "y": {"field": "j", "type": "quantitative", "scale": {"domain": [-22.5, 10], "nice": false, "zero": false},
                  "axis": {"orient": "left", "values": [-20, -15, -10, -5, 0, 5, 10], "labelExpr": "datum.value < 0 ? '-' + format(-datum.value, 'd') : format(datum.value, 'd')", "tickSize": 8, "labelPadding": 8, "title": "j /(mA cm⁻²)", "titlePadding": 22}},
            "color": {"field": "s", "type": "nominal",
                      "scale": {"domain": ["Pd foil"], "range": ["#000000"]},
                      "legend": {"title": null, "orient": "none", "legendX": 410, "legendY": 37, "padding": 0, "symbolType": "stroke", "symbolSize": 2450, "symbolStrokeWidth": 3, "clipHeight": 28, "labelOffset": 4, "labelLimit": 200}},
            "order": {"value": null}
          }
        },
        {
          "data": {"name": "annB"},
          "mark": {"type": "text", "fontSize": 23, "fontWeight": "bold", "color": "#000", "align": "center", "baseline": "middle"},
          "encoding": {
            "x": {"field": "v", "type": "quantitative", "axis": {"orient": "bottom", "values": [-0.25, -0.15, -0.05, 0.05, 0.15, 0.25], "labels": false, "domain": false, "title": null, "tickSize": 5}},
            "y": {"field": "j", "type": "quantitative", "axis": {"orient": "left", "values": [-17.5, -12.5, -7.5, -2.5, 2.5, 7.5], "labels": false, "domain": false, "title": null, "tickSize": 4}},
            "text": {"field": "t"}
          }
        },
        {
          "data": {"name": "annB"},
          "mark": {"type": "point", "opacity": 0},
          "encoding": {
            "x": {"field": "v", "type": "quantitative", "axis": {"orient": "top", "values": [-0.3, -0.25, -0.2, -0.15, -0.1, -0.05, 0, 0.05, 0.1, 0.15, 0.2, 0.25, 0.3], "labels": false, "title": null, "tickSize": -4}},
            "y": {"field": "j", "type": "quantitative", "axis": null}
          }
        }
      ],
      "resolve": {"axis": {"x": "independent", "y": "independent"}}
    }
  ],
  "resolve": {"scale": {"x": "independent", "y": "independent", "color": "independent"}, "legend": {"color": "independent"}}
}
